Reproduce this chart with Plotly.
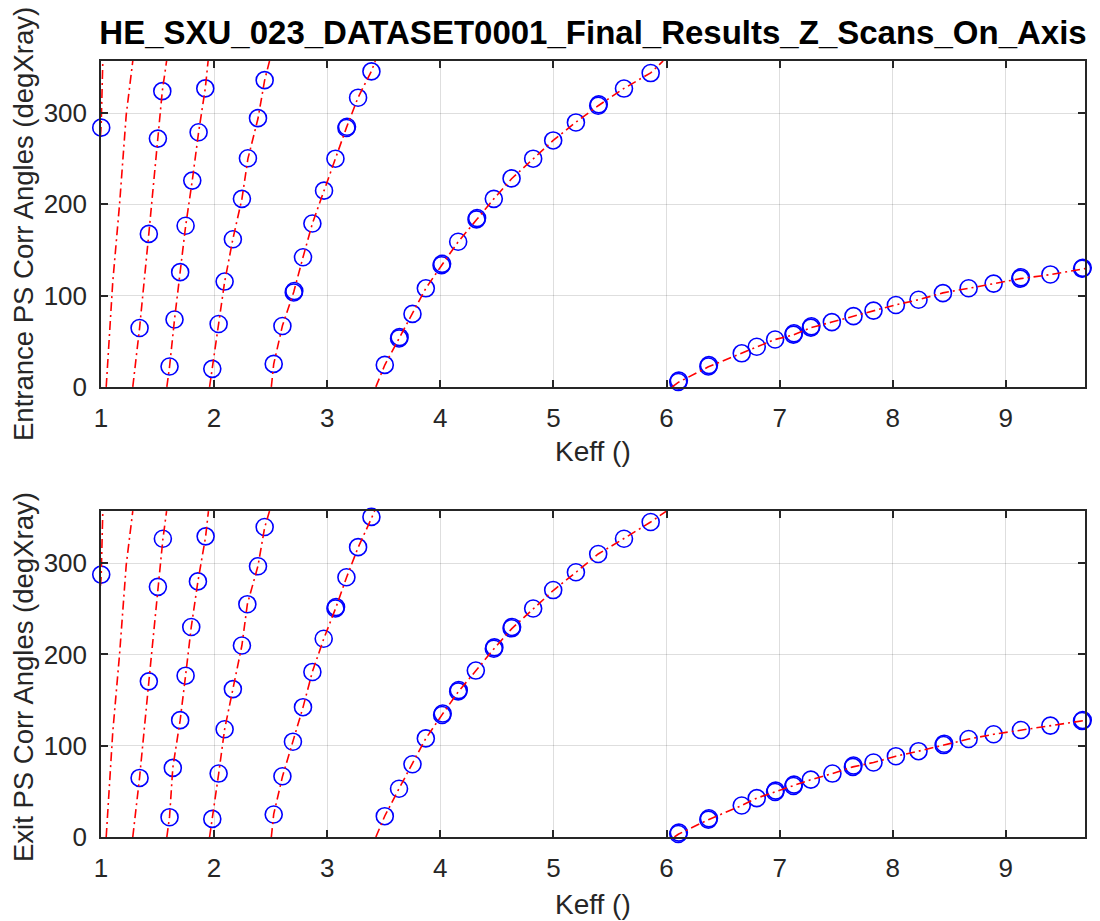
import plotly.graph_objects as go
from plotly.subplots import make_subplots

# measured points (blue circles), entrance PS
entr_keff = [1.002, 1.341, 1.423, 1.503, 1.542,
             1.606, 1.650, 1.700, 1.748, 1.807, 1.863, 1.922,
             1.984, 2.040, 2.093, 2.166, 2.246, 2.299, 2.388, 2.447,
             2.527, 2.604, 2.704, 2.709, 2.786, 2.869, 2.972, 3.073, 3.170, 3.175, 3.273, 3.391,
             3.509, 3.635, 3.640, 3.754, 3.872, 4.011, 4.016, 4.158, 4.320, 4.325, 4.473, 4.630,
             4.821, 4.998, 5.199, 5.396, 5.401, 5.624, 5.860,
             6.104, 6.109, 6.370, 6.375, 6.665, 6.798, 6.960, 7.122, 7.127, 7.276, 7.281,
             7.462, 7.653, 7.830, 8.028, 8.228, 8.444, 8.671, 8.892, 9.128, 9.133,
             9.394, 9.674, 9.680]
entr_angle = [284, 64.5, 167.6, 272, 324,
              22.4, 73.8, 125.7, 176.5, 226, 279, 327,
              19.8, 68.9, 115.4, 161.8, 206, 250.5, 294.4, 336,
              25.2, 66.7, 103.5, 105, 142, 179, 215, 250, 283.6, 285, 316.8, 345.6,
              24.1, 53, 54.5, 80, 108, 133.3, 134.8, 159, 183.5, 185, 206, 228.4,
              250, 270, 289.7, 308, 309.5, 326.8, 343.8,
              5.4, 6.9, 22.4, 23.9, 36.8, 44, 51.9, 57.3, 58.8, 64.9, 66.4,
              71, 77.5, 83.6, 89.7, 95.5, 102.7, 108.1, 113.2, 118.6, 120.1,
              123.2, 129.4, 130.4]

# measured points, exit PS
exit_keff = [1.002, 1.341, 1.423, 1.503, 1.547,
             1.606, 1.635, 1.700, 1.748, 1.798, 1.857, 1.925,
             1.984, 2.040, 2.093, 2.166, 2.246, 2.294, 2.388, 2.447,
             2.527, 2.604, 2.697, 2.786, 2.869, 2.969, 3.073, 3.078, 3.170, 3.273, 3.391,
             3.509, 3.635, 3.754, 3.872, 4.016, 4.021, 4.158, 4.163, 4.314, 4.473, 4.478,
             4.630, 4.635, 4.821, 4.998, 5.199, 5.396, 5.624, 5.860,
             6.104, 6.109, 6.370, 6.375, 6.665, 6.798, 6.960, 6.965, 7.122, 7.127, 7.276,
             7.467, 7.648, 7.653, 7.830, 8.028, 8.228, 8.450, 8.455, 8.671, 8.892, 9.134,
             9.394, 9.674, 9.680]
exit_angle = [287.4, 64.7, 170.5, 274, 326.7,
              21.7, 75.7, 128, 176.7, 230, 280, 329.3,
              19.8, 69.5, 118, 162, 209.8, 255, 296.6, 339.6,
              24.6, 66.5, 104.4, 142.2, 180.8, 217.2, 250.3, 251.8, 284.5, 317.5, 350.6,
              22.8, 52.9, 79.7, 108, 133.7, 135.2, 159.5, 161, 182.3, 206.2, 207.7,
              228.6, 230.1, 250.3, 270.5, 290, 310, 326.7, 345,
              3.3, 4.8, 19, 20.5, 34.5, 42.6, 49.3, 50.8, 55.9, 57.4, 62.8,
              69.5, 76.8, 78.3, 81.6, 88.5, 94, 100.7, 102.2, 107.3, 112.5, 117.2,
              122, 127.1, 128.1]

# fitted curves (red dash-dot), one wrap per branch, None separates branches
entr_fit_keff = [0.995, 1.002, 1.016, None,
                 1.046, 1.104, 1.164, 1.223, 1.281, None,
                 1.281, 1.341, 1.423, 1.503, 1.542, 1.580, None,
                 1.582, 1.606, 1.650, 1.700, 1.748, 1.807, 1.863, 1.922, 1.947, None,
                 1.960, 1.984, 2.040, 2.093, 2.166, 2.246, 2.299, 2.388, 2.447, 2.490, None,
                 2.506, 2.527, 2.604, 2.704, 2.786, 2.869, 2.972, 3.073, 3.170, 3.273, 3.391, 3.425, None,
                 3.430, 3.509, 3.635, 3.754, 3.872, 4.011, 4.158, 4.320, 4.473, 4.630, 4.821,
                 4.998, 5.199, 5.396, 5.624, 5.860, 5.970, None,
                 6.050, 6.104, 6.370, 6.665, 6.798, 6.960, 7.122, 7.276, 7.462, 7.653, 7.830,
                 8.028, 8.228, 8.444, 8.671, 8.892, 9.128, 9.394, 9.674, 9.720]
entr_fit_angle = [275, 288, 357, None,
                  0, 115, 200, 298, 357, None,
                  0, 64.5, 168, 272, 324, 357, None,
                  0, 22, 74, 126, 176, 226, 279, 327, 357, None,
                  0, 20, 69, 115, 162, 206, 250, 294, 336, 357, None,
                  0, 25, 67, 104, 142, 179, 215, 250, 284, 317, 346, 357, None,
                  0, 24, 53, 80, 108, 133, 159, 183, 206, 228, 250,
                  270, 290, 308, 327, 344, 357, None,
                  0, 5, 22, 37, 44, 52, 57, 65, 71, 77.5, 84,
                  90, 95.5, 103, 108, 113, 118.6, 123, 129.4, 130]

exit_fit_keff = [0.995, 1.002, 1.016, None,
                 1.046, 1.104, 1.164, 1.223, 1.281, None,
                 1.281, 1.341, 1.423, 1.503, 1.547, 1.580, None,
                 1.582, 1.606, 1.635, 1.700, 1.748, 1.798, 1.857, 1.925, 1.950, None,
                 1.960, 1.984, 2.040, 2.093, 2.166, 2.246, 2.294, 2.388, 2.447, 2.490, None,
                 2.506, 2.527, 2.604, 2.697, 2.786, 2.869, 2.969, 3.073, 3.170, 3.273, 3.391, 3.420, None,
                 3.430, 3.509, 3.635, 3.754, 3.872, 4.016, 4.158, 4.314, 4.473, 4.630, 4.821,
                 4.998, 5.199, 5.396, 5.624, 5.860, 6.000, None,
                 6.070, 6.104, 6.370, 6.665, 6.798, 6.960, 7.122, 7.276, 7.467, 7.648, 7.830,
                 8.028, 8.228, 8.450, 8.671, 8.892, 9.134, 9.394, 9.674, 9.720]
exit_fit_angle = [275, 287, 357, None,
                  0, 115, 200, 298, 357, None,
                  0, 65, 170, 274, 326, 357, None,
                  0, 22, 76, 128, 177, 230, 280, 329, 357, None,
                  0, 20, 69, 118, 162, 210, 255, 297, 339, 357, None,
                  0, 25, 66, 104, 142, 181, 217, 250, 284, 317, 350, 357, None,
                  0, 23, 53, 80, 108, 134, 159, 182, 206, 228, 250,
                  270, 290, 310, 327, 345, 357, None,
                  0, 3, 19, 34.5, 42.6, 49.3, 56, 62.8, 69.5, 76.8, 81.6,
                  88.5, 94, 100.7, 107.3, 112.5, 117.2, 122, 127.1, 128]

y_ticks = [0, 100, 200, 300]
x_ticks = [1, 2, 3, 4, 5, 6, 7, 8, 9]

FONT = "Liberation Sans, Arial, sans-serif"
AX_COL = "#262626"

fig = make_subplots(rows=2, cols=1, vertical_spacing=0.16)

panels = [
    (entr_keff, entr_angle, entr_fit_keff, entr_fit_angle),
    (exit_keff, exit_angle, exit_fit_keff, exit_fit_angle),
]
for row, (kx, ky, fx, fy) in enumerate(panels, start=1):
    fig.add_trace(
        go.Scatter(
            x=kx, y=ky, mode="markers", cliponaxis=False,
            marker=dict(symbol="circle-open", size=17, color="rgb(0,0,255)",
                        line=dict(width=1.6, color="rgb(0,0,255)")),
            showlegend=False,
        ),
        row=row, col=1,
    )
    fig.add_trace(
        go.Scatter(
            x=fx, y=fy, mode="lines", connectgaps=False,
            line=dict(color="rgb(255,0,0)", width=1.6, dash="9px,4px,2px,4px"),
            showlegend=False,
        ),
        row=row, col=1,
    )

axis_style = dict(
    showline=True, linecolor=AX_COL, linewidth=1.5, mirror="ticks",
    ticks="inside", ticklen=7, tickwidth=1.5, tickcolor=AX_COL,
    showgrid=True, gridcolor="rgba(0,0,0,0.13)", gridwidth=1,
    zeroline=False, ticklabelstandoff=7,
    tickfont=dict(family=FONT, size=26, color=AX_COL),
)
for row in (1, 2):
    fig.update_xaxes(range=[1, 9.7], tickvals=x_ticks, row=row, col=1, **axis_style)
    fig.update_yaxes(range=[0, 357], tickvals=y_ticks, row=row, col=1, **axis_style)

fig.update_layout(
    width=1100, height=921,
    margin=dict(l=101, r=15, t=61, b=84),
    plot_bgcolor="white", paper_bgcolor="white",
    title=dict(text="<b>HE_SXU_023_DATASET0001_Final_Results_Z_Scans_On_Axis</b>",
               x=0.5, xanchor="center", xref="paper",
               y=1 - 32 / 921, yref="container", yanchor="middle",
               font=dict(family=FONT, size=33, color="black")),
    xaxis=dict(domain=[0, 1]), yaxis=dict(domain=[0.58, 1]),
    xaxis2=dict(domain=[0, 1]), yaxis2=dict(domain=[0, 0.42]),
)

# axis titles placed by pixel position (x, y from the figure's top-left)
labels = [
    dict(text="Keff ()", x=593, y=451, angle=0, size=28),
    dict(text="Keff ()", x=593, y=905, angle=0, size=28),
    dict(text="Entrance PS Corr Angles (degXray)", x=23, y=224, angle=-90, size=27.5),
    dict(text="Exit PS Corr Angles (degXray)", x=23, y=677, angle=-90, size=27.5),
]
for lab in labels:
    fig.add_annotation(
        text=lab["text"],
        x=(lab["x"] - 101) / 984, xref="paper",
        y=1 - (lab["y"] - 61) / 776, yref="paper",
        xanchor="center", yanchor="middle", textangle=lab["angle"],
        showarrow=False, font=dict(family=FONT, size=lab["size"], color=AX_COL),
    )

fig.write_html("out.html", config={"displayModeBar": False},
               post_script="document.body.style.margin='0';")
